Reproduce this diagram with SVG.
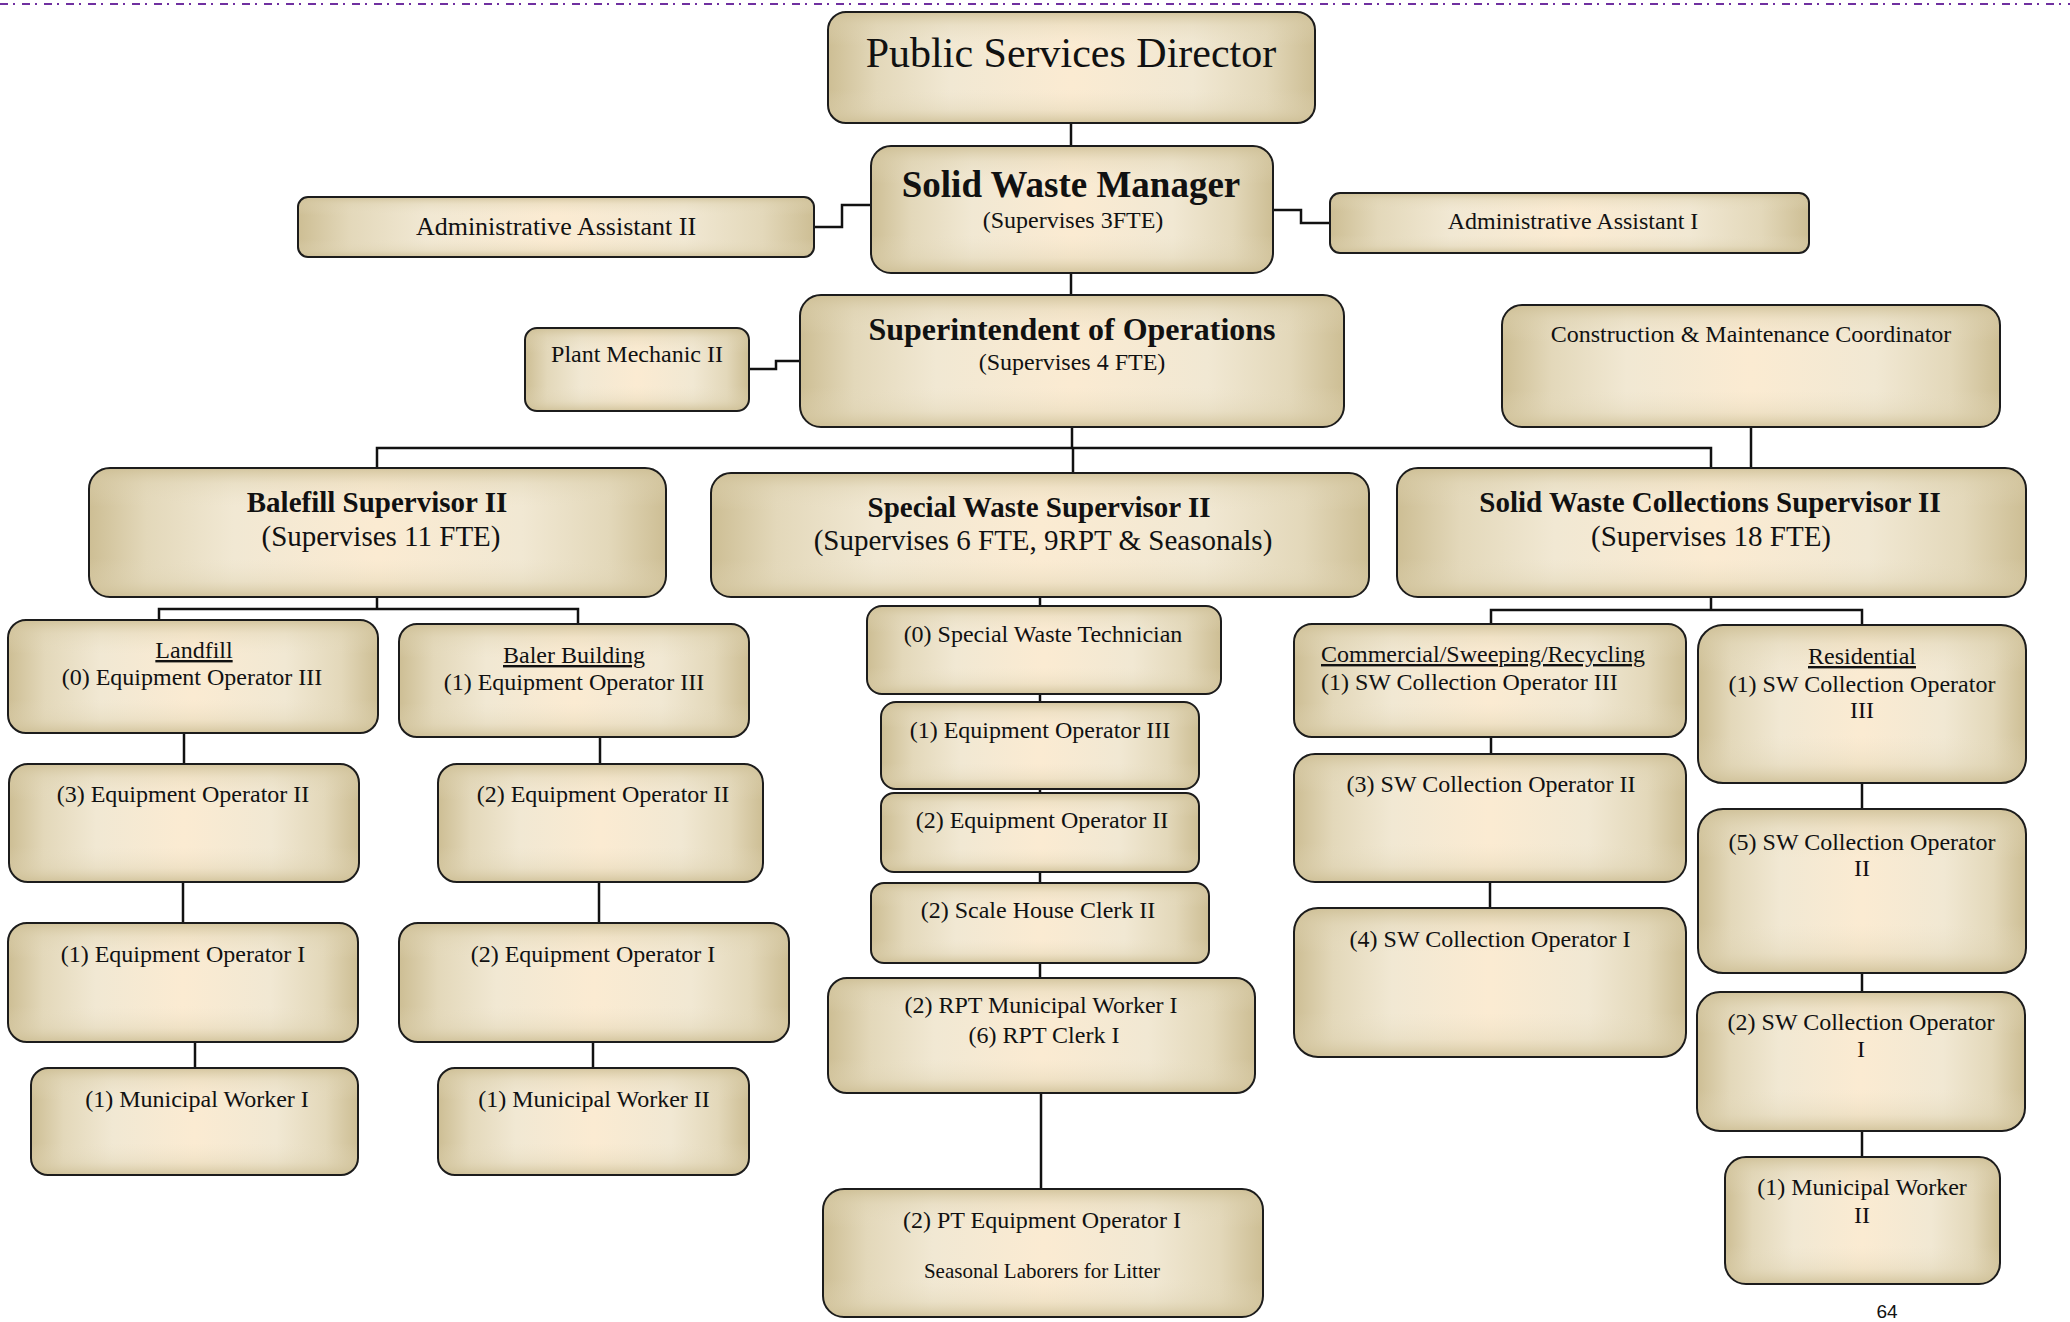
<svg xmlns="http://www.w3.org/2000/svg" width="2070" height="1322" viewBox="0 0 2070 1322">
<defs>
<linearGradient id="gh" x1="0" y1="0" x2="1" y2="0">
<stop offset="0" stop-color="#CDBE94"/>
<stop offset="0.1" stop-color="#E3D8BA"/>
<stop offset="0.25" stop-color="#F1E8D3"/>
<stop offset="0.5" stop-color="#FBEBD2"/>
<stop offset="0.75" stop-color="#F1E8D3"/>
<stop offset="0.9" stop-color="#E3D8BA"/>
<stop offset="1" stop-color="#CDBE94"/>
</linearGradient>
<linearGradient id="gv" x1="0" y1="0" x2="0" y2="1">
<stop offset="0" stop-color="#CDBE94" stop-opacity="0.85"/>
<stop offset="0.12" stop-color="#DCD0AE" stop-opacity="0.35"/>
<stop offset="0.3" stop-color="#E8DEC4" stop-opacity="0"/>
<stop offset="0.7" stop-color="#E8DEC4" stop-opacity="0"/>
<stop offset="0.88" stop-color="#DCD0AE" stop-opacity="0.35"/>
<stop offset="1" stop-color="#CDBE94" stop-opacity="0.85"/>
</linearGradient>
</defs>
<style>
.b{fill:url(#gh)}
.o{fill:url(#gv);stroke:#1c1c1c;stroke-width:2}
text{font-family:"Liberation Serif","Times New Roman",serif;fill:#111;text-anchor:middle;font-size:24px}
.bd{font-weight:bold}
.u{text-decoration:underline}
.c{fill:none;stroke:#111;stroke-width:2.5}
</style>
<rect x="0" y="0" width="2070" height="1322" fill="#fff"/>
<line x1="0" y1="4" x2="2070" y2="4" stroke="#7030A0" stroke-width="1.8" stroke-dasharray="8,5,2,7"/>

<g id="connectors" class="c">
<path d="M1071,123V146"/>
<path d="M814,227H842V205H871"/>
<path d="M1273,210H1301V223H1330"/>
<path d="M1071,273V295"/>
<path d="M749,369H776V361H800"/>
<path d="M1072,427V448"/>
<path d="M377,468V448H1711V468"/>
<path d="M1073,448V473"/>
<path d="M1751,427V468"/>
<path d="M377,597V609"/>
<path d="M159,620V609H578V624"/>
<path d="M1040,597V606"/>
<path d="M1040,694V702"/>
<path d="M1040,789V793"/>
<path d="M1040,872V883"/>
<path d="M1040,963V978"/>
<path d="M1041,1093V1189"/>
<path d="M184,733V764"/>
<path d="M183,882V923"/>
<path d="M195,1042V1068"/>
<path d="M600,737V764"/>
<path d="M599,882V923"/>
<path d="M593,1042V1068"/>
<path d="M1711,597V610"/>
<path d="M1491,624V610H1862V625"/>
<path d="M1491,737V754"/>
<path d="M1490,882V908"/>
<path d="M1862,783V809"/>
<path d="M1862,973V992"/>
<path d="M1862,1131V1157"/>
</g>

<g id="director">
<rect class="b" x="828" y="12" width="487" height="111" rx="18"/>
<rect class="o" x="828" y="12" width="487" height="111" rx="18"/>
<text x="1071" y="67" style="font-size:42px">Public Services Director</text>
</g>
<g id="sw-manager">
<rect class="b" x="871" y="146" width="402" height="127" rx="20"/>
<rect class="o" x="871" y="146" width="402" height="127" rx="20"/>
<text class="bd" x="1071" y="197" style="font-size:37px">Solid Waste Manager</text>
<text x="1073" y="228">(Supervises 3FTE)</text>
</g>
<g id="admin-assistant-ii">
<rect class="b" x="298" y="197" width="516" height="60" rx="10"/>
<rect class="o" x="298" y="197" width="516" height="60" rx="10"/>
<text x="556" y="235" style="font-size:26px">Administrative Assistant II</text>
</g>
<g id="admin-assistant-i">
<rect class="b" x="1330" y="193" width="479" height="60" rx="10"/>
<rect class="o" x="1330" y="193" width="479" height="60" rx="10"/>
<text x="1573" y="229">Administrative Assistant I</text>
</g>
<g id="superintendent">
<rect class="b" x="800" y="295" width="544" height="132" rx="21"/>
<rect class="o" x="800" y="295" width="544" height="132" rx="21"/>
<text class="bd" x="1072" y="340" style="font-size:32px">Superintendent of Operations</text>
<text x="1072" y="370">(Supervises 4 FTE)</text>
</g>
<g id="plant-mechanic">
<rect class="b" x="525" y="328" width="224" height="83" rx="12"/>
<rect class="o" x="525" y="328" width="224" height="83" rx="12"/>
<text x="637" y="362">Plant Mechanic II</text>
</g>
<g id="cm-coordinator">
<rect class="b" x="1502" y="305" width="498" height="122" rx="20"/>
<rect class="o" x="1502" y="305" width="498" height="122" rx="20"/>
<text x="1751" y="342">Construction &amp; Maintenance Coordinator</text>
</g>

<g id="balefill-supervisor">
<rect class="b" x="89" y="468" width="577" height="129" rx="21"/>
<rect class="o" x="89" y="468" width="577" height="129" rx="21"/>
<text class="bd" x="377" y="512" style="font-size:29px">Balefill Supervisor II</text>
<text x="381" y="546" style="font-size:29px">(Supervises 11 FTE)</text>
</g>
<g id="special-waste-supervisor">
<rect class="b" x="711" y="473" width="658" height="124" rx="20"/>
<rect class="o" x="711" y="473" width="658" height="124" rx="20"/>
<text class="bd" x="1039" y="517" style="font-size:29px">Special Waste Supervisor II</text>
<text x="1043" y="550" style="font-size:29px">(Supervises 6 FTE, 9RPT &amp; Seasonals)</text>
</g>
<g id="collections-supervisor">
<rect class="b" x="1397" y="468" width="629" height="129" rx="21"/>
<rect class="o" x="1397" y="468" width="629" height="129" rx="21"/>
<text class="bd" x="1710" y="512" style="font-size:29px">Solid Waste Collections Supervisor II</text>
<text x="1711" y="546" style="font-size:29px">(Supervises 18 FTE)</text>
</g>

<g id="landfill">
<rect class="b" x="8" y="620" width="370" height="113" rx="18"/>
<rect class="o" x="8" y="620" width="370" height="113" rx="18"/>
<text class="u" x="194" y="658">Landfill</text>
<text x="192" y="685">(0) Equipment Operator III</text>
</g>
<g id="baler-building">
<rect class="b" x="399" y="624" width="350" height="113" rx="18"/>
<rect class="o" x="399" y="624" width="350" height="113" rx="18"/>
<text class="u" x="574" y="663">Baler Building</text>
<text x="574" y="690">(1) Equipment Operator III</text>
</g>
<g id="landfill-eo2">
<rect class="b" x="9" y="764" width="350" height="118" rx="19"/>
<rect class="o" x="9" y="764" width="350" height="118" rx="19"/>
<text x="183" y="802">(3) Equipment Operator II</text>
</g>
<g id="baler-eo2">
<rect class="b" x="438" y="764" width="325" height="118" rx="19"/>
<rect class="o" x="438" y="764" width="325" height="118" rx="19"/>
<text x="603" y="802">(2) Equipment Operator II</text>
</g>
<g id="landfill-eo1">
<rect class="b" x="8" y="923" width="350" height="119" rx="19"/>
<rect class="o" x="8" y="923" width="350" height="119" rx="19"/>
<text x="183" y="962">(1) Equipment Operator I</text>
</g>
<g id="baler-eo1">
<rect class="b" x="399" y="923" width="390" height="119" rx="19"/>
<rect class="o" x="399" y="923" width="390" height="119" rx="19"/>
<text x="593" y="962">(2) Equipment Operator I</text>
</g>
<g id="landfill-mw1">
<rect class="b" x="31" y="1068" width="327" height="107" rx="17"/>
<rect class="o" x="31" y="1068" width="327" height="107" rx="17"/>
<text x="197" y="1107">(1) Municipal Worker I</text>
</g>
<g id="baler-mw2">
<rect class="b" x="438" y="1068" width="311" height="107" rx="17"/>
<rect class="o" x="438" y="1068" width="311" height="107" rx="17"/>
<text x="594" y="1107">(1) Municipal Worker II</text>
</g>

<g id="sw-technician">
<rect class="b" x="867" y="606" width="354" height="88" rx="15"/>
<rect class="o" x="867" y="606" width="354" height="88" rx="15"/>
<text x="1043" y="642">(0) Special Waste Technician</text>
</g>
<g id="sw-eo3">
<rect class="b" x="881" y="702" width="318" height="87" rx="15"/>
<rect class="o" x="881" y="702" width="318" height="87" rx="15"/>
<text x="1040" y="738">(1) Equipment Operator III</text>
</g>
<g id="sw-eo2">
<rect class="b" x="881" y="793" width="318" height="79" rx="13"/>
<rect class="o" x="881" y="793" width="318" height="79" rx="13"/>
<text x="1042" y="828">(2) Equipment Operator II</text>
</g>
<g id="scale-house">
<rect class="b" x="871" y="883" width="338" height="80" rx="13"/>
<rect class="o" x="871" y="883" width="338" height="80" rx="13"/>
<text x="1038" y="918">(2) Scale House Clerk II</text>
</g>
<g id="rpt">
<rect class="b" x="828" y="978" width="427" height="115" rx="19"/>
<rect class="o" x="828" y="978" width="427" height="115" rx="19"/>
<text x="1041" y="1013">(2) RPT Municipal Worker I</text>
<text x="1044" y="1043">(6) RPT Clerk I</text>
</g>
<g id="pt-eo1">
<rect class="b" x="823" y="1189" width="440" height="128" rx="21"/>
<rect class="o" x="823" y="1189" width="440" height="128" rx="21"/>
<text x="1042" y="1228">(2) PT Equipment Operator I</text>
<text x="1042" y="1278" style="font-size:21px">Seasonal Laborers for Litter</text>
</g>

<g id="commercial">
<rect class="b" x="1294" y="624" width="392" height="113" rx="18"/>
<rect class="o" x="1294" y="624" width="392" height="113" rx="18"/>
<text class="u" x="1321" y="662" style="text-anchor:start">Commercial/Sweeping/Recycling</text>
<text x="1321" y="690" style="text-anchor:start">(1) SW Collection Operator III</text>
</g>
<g id="residential">
<rect class="b" x="1698" y="625" width="328" height="158" rx="25"/>
<rect class="o" x="1698" y="625" width="328" height="158" rx="25"/>
<text class="u" x="1862" y="664">Residential</text>
<text x="1862" y="692">(1) SW Collection Operator</text>
<text x="1862" y="718">III</text>
</g>
<g id="comm-swco2">
<rect class="b" x="1294" y="754" width="392" height="128" rx="21"/>
<rect class="o" x="1294" y="754" width="392" height="128" rx="21"/>
<text x="1491" y="792">(3) SW Collection Operator II</text>
</g>
<g id="res-swco2">
<rect class="b" x="1698" y="809" width="328" height="164" rx="25"/>
<rect class="o" x="1698" y="809" width="328" height="164" rx="25"/>
<text x="1862" y="850">(5) SW Collection Operator</text>
<text x="1862" y="876">II</text>
</g>
<g id="comm-swco1">
<rect class="b" x="1294" y="908" width="392" height="149" rx="24"/>
<rect class="o" x="1294" y="908" width="392" height="149" rx="24"/>
<text x="1490" y="947">(4) SW Collection Operator I</text>
</g>
<g id="res-swco1">
<rect class="b" x="1697" y="992" width="328" height="139" rx="23"/>
<rect class="o" x="1697" y="992" width="328" height="139" rx="23"/>
<text x="1861" y="1030">(2) SW Collection Operator</text>
<text x="1861" y="1057">I</text>
</g>
<g id="res-mw2">
<rect class="b" x="1725" y="1157" width="275" height="127" rx="21"/>
<rect class="o" x="1725" y="1157" width="275" height="127" rx="21"/>
<text x="1862" y="1195">(1) Municipal Worker</text>
<text x="1862" y="1223">II</text>
</g>

<text x="1887" y="1318" style="font-family:'Liberation Sans',Arial,sans-serif;font-size:19px">64</text>
</svg>
